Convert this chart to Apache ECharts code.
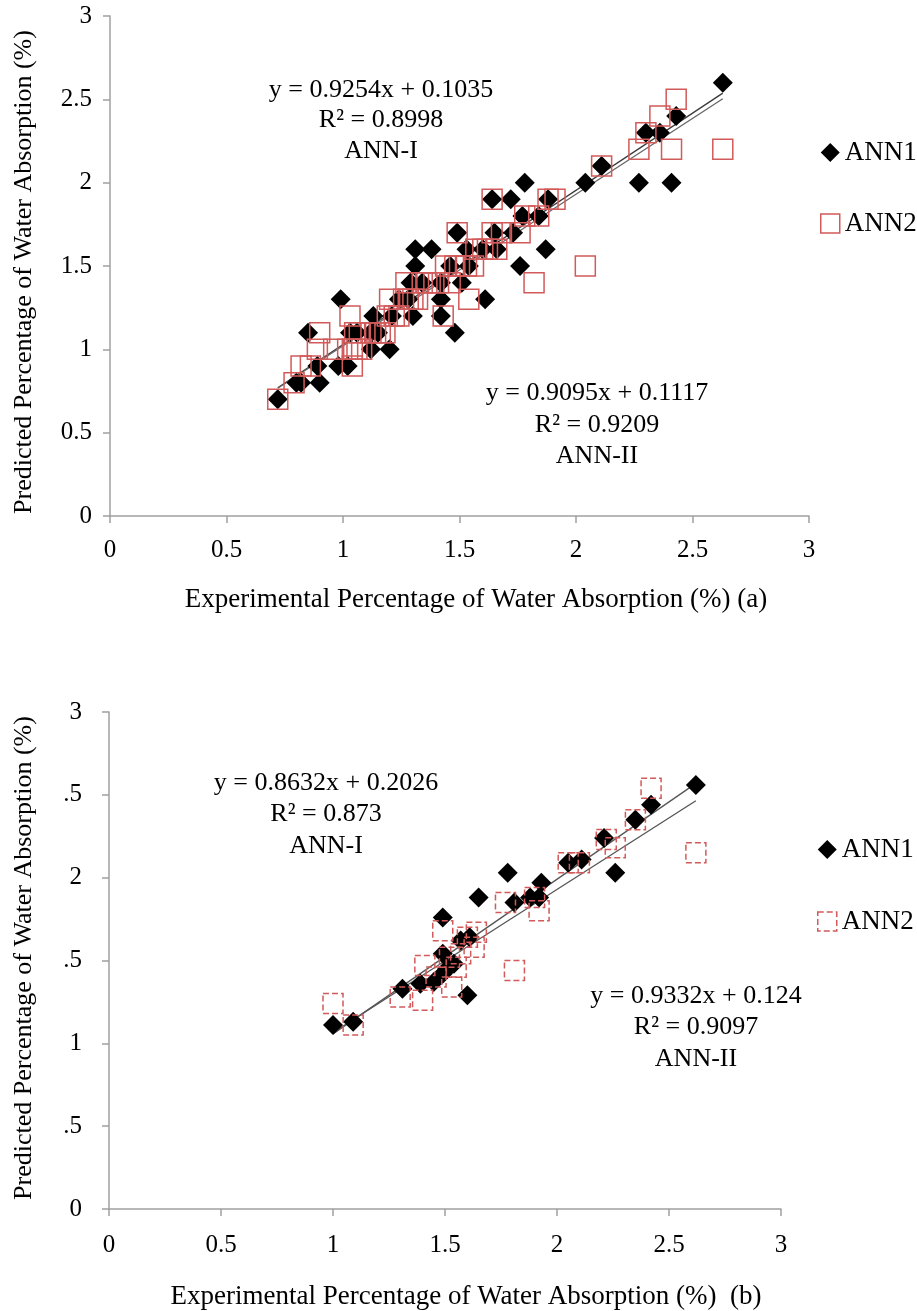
<!DOCTYPE html>
<html><head><meta charset="utf-8">
<script src="https://cdn.jsdelivr.net/npm/echarts@6/dist/echarts.min.js"></script>
<style>html,body{margin:0;padding:0;background:#fff}#c{width:917px;height:1311px}</style>
</head><body><div id="c"></div>
<script>
// ---------- data ----------
const xTickLabels = ['0','0.5','1','1.5','2','2.5','3'];
const yTickLabelsA = ['0','0.5','1','1.5','2','2.5','3'];
const yTickLabelsB = ['0','.5','1','.5','2','.5','3'];

const ann1A = [[0.72,0.7],[0.8,0.8],[0.82,0.8],[0.9,0.8],[0.85,1.1],[0.89,0.9],[0.98,0.9],[1.02,0.9],[0.99,1.3],[1.03,1.1],[1.06,1.1],[1.12,1.0],[1.2,1.0],[1.12,1.1],[1.15,1.1],[1.13,1.2],[1.21,1.2],[1.3,1.2],[1.42,1.2],[1.24,1.3],[1.28,1.3],[1.42,1.3],[1.29,1.4],[1.34,1.4],[1.42,1.4],[1.51,1.4],[1.31,1.5],[1.46,1.5],[1.54,1.5],[1.76,1.5],[1.31,1.6],[1.38,1.6],[1.53,1.6],[1.6,1.6],[1.66,1.6],[1.87,1.6],[1.48,1.1],[1.61,1.3],[1.49,1.7],[1.65,1.7],[1.73,1.7],[1.77,1.8],[1.84,1.8],[1.64,1.9],[1.72,1.9],[1.88,1.9],[1.78,2.0],[2.04,2.0],[2.27,2.0],[2.41,2.0],[2.11,2.1],[2.3,2.3],[2.36,2.3],[2.43,2.4],[2.63,2.6]];
const ann2A = [[0.72,0.7],[0.79,0.8],[0.82,0.9],[0.86,0.9],[0.89,1.0],[0.9,1.1],[0.96,1.0],[1.02,1.0],[1.04,0.9],[1.04,1.0],[1.06,1.0],[1.03,1.2],[1.05,1.1],[1.07,1.1],[1.08,1.0],[1.12,1.1],[1.14,1.1],[1.16,1.1],[1.18,1.1],[1.19,1.2],[1.2,1.3],[1.22,1.2],[1.24,1.2],[1.26,1.3],[1.27,1.4],[1.28,1.3],[1.3,1.3],[1.32,1.3],[1.34,1.4],[1.36,1.4],[1.39,1.4],[1.41,1.4],[1.43,1.2],[1.44,1.5],[1.46,1.4],[1.48,1.5],[1.49,1.7],[1.5,1.5],[1.53,1.5],[1.54,1.3],[1.56,1.5],[1.57,1.6],[1.6,1.6],[1.62,1.6],[1.64,1.7],[1.64,1.9],[1.66,1.6],[1.68,1.7],[1.76,1.7],[1.78,1.8],[1.82,1.4],[1.84,1.8],[1.88,1.9],[1.91,1.9],[2.04,1.5],[2.11,2.1],[2.27,2.2],[2.3,2.3],[2.36,2.4],[2.41,2.2],[2.43,2.5],[2.63,2.2]];

const ann1B = [[1.0,1.11],[1.09,1.13],[1.31,1.33],[1.39,1.36],[1.45,1.37],[1.49,1.42],[1.51,1.45],[1.54,1.48],[1.49,1.54],[1.49,1.76],[1.6,1.29],[1.57,1.62],[1.61,1.64],[1.65,1.88],[1.78,2.03],[1.81,1.85],[1.88,1.88],[1.93,1.97],[1.92,1.88],[2.05,2.09],[2.11,2.11],[2.21,2.24],[2.26,2.03],[2.35,2.35],[2.42,2.44],[2.62,2.56]];
const ann2B = [[1.0,1.24],[1.09,1.11],[1.3,1.28],[1.4,1.26],[1.41,1.47],[1.46,1.4],[1.49,1.68],[1.52,1.52],[1.53,1.34],[1.55,1.46],[1.57,1.54],[1.6,1.64],[1.63,1.58],[1.64,1.67],[1.77,1.85],[1.81,1.44],[1.9,1.88],[1.92,1.8],[2.05,2.09],[2.1,2.09],[2.22,2.23],[2.26,2.18],[2.35,2.35],[2.42,2.54],[2.62,2.15]];

const fitSlopeA = [0.9254, 0.9095];
const fitInterceptA = [0.1035, 0.1117];
const fitSlopeB = [0.8632, 0.9332];
const fitInterceptB = [0.2026, 0.124];
const eqTextA1 = ['y = 0.9254x + 0.1035','R\u00b2 = 0.8998','ANN-I'];
const eqTextA2 = ['y = 0.9095x + 0.1117','R\u00b2 = 0.9209','ANN-II'];
const eqTextB1 = ['y = 0.8632x + 0.2026','R\u00b2 = 0.873','ANN-I'];
const eqTextB2 = ['y = 0.9332x + 0.124','R\u00b2 = 0.9097','ANN-II'];
const xTitleA = 'Experimental Percentage of Water Absorption (%) (a)';
const xTitleB = 'Experimental Percentage of Water Absorption (%)  (b)';
const yTitle = 'Predicted Percentage of Water Absorption (%)';

// ---------- helpers ----------
const FONT = '"Liberation Serif","Times New Roman",serif';
const RED = '#d25a5a';
function fitLine(slope, icpt, pts) {
  const xs = pts.map(p => p[0]);
  const x0 = Math.min(...xs), x1 = Math.max(...xs);
  return [[x0, slope*x0+icpt],[x1, slope*x1+icpt]];
}
function axisCommon(labels, margin, extra) {
  return Object.assign({
    type: 'value', min: 0, max: 3, interval: 0.5,
    axisLine: {show: true, onZero: false, lineStyle: {color: '#a0a0a0', width: 1.5}},
    axisTick: {show: true, length: 7, lineStyle: {color: '#a0a0a0', width: 1.5}},
    splitLine: {show: false},
    axisLabel: {fontFamily: FONT, fontSize: 25, color: '#000', margin: margin,
      formatter: v => labels[Math.round(v / 0.5)]}
  }, extra);
}
function eqGraphics(lines, cx, ys) {
  return lines.map((t, i) => ({
    type: 'text', x: cx, y: ys[i],
    style: {text: t, fontFamily: FONT, fontSize: 26, fill: '#000', align: 'center', verticalAlign: 'middle'}
  }));
}
const allA = ann1A.concat(ann2A), allB = ann1B.concat(ann2B);
const lineStyleFit = c => ({type: 'line', showSymbol: false, silent: true, z: 1,
  lineStyle: {color: c, width: 1.3}});

const option = {
  backgroundColor: '#fff',
  animation: false,
  grid: [
    {left: 110, top: 16, width: 699, height: 500},
    {left: 109, top: 712, width: 672, height: 497}
  ],
  xAxis: [
    axisCommon(xTickLabels, 22, {gridIndex: 0}),
    axisCommon(xTickLabels, 24, {gridIndex: 1})
  ],
  yAxis: [
    axisCommon(yTickLabelsA, 18, {gridIndex: 0}),
    axisCommon(yTickLabelsB, 27, {gridIndex: 1})
  ],
  legend: [
    {orient: 'vertical', left: 820, top: 139, padding: 0, itemWidth: 19, itemHeight: 19, itemGap: 44,
     selectedMode: false,
     textStyle: {fontFamily: FONT, fontSize: 27, color: '#000', lineHeight: 26},
     data: [{name: 'ANN1', icon: 'diamond', itemStyle: {color: '#000'}},
            {name: 'ANN2', icon: 'rect', itemStyle: {color: 'rgba(0,0,0,0)', borderColor: RED, borderWidth: 1.5}}]},
    {orient: 'vertical', left: 817, top: 836, padding: 0, itemWidth: 19, itemHeight: 19, itemGap: 45,
     selectedMode: false,
     textStyle: {fontFamily: FONT, fontSize: 27, color: '#000', lineHeight: 26},
     data: [{name: 'ANN1', icon: 'diamond', itemStyle: {color: '#000'}},
            {name: 'ANN2', icon: 'rect', itemStyle: {color: 'rgba(0,0,0,0)', borderColor: RED, borderWidth: 1.5, borderType: 'dashed'}}]}
  ],
  series: [
    {name: 'ANN1', type: 'scatter', xAxisIndex: 0, yAxisIndex: 0, data: ann1A, symbol: 'diamond', symbolSize: 20,
     itemStyle: {color: '#000', opacity: 1}, z: 3},
    {name: 'ANN2', type: 'scatter', xAxisIndex: 0, yAxisIndex: 0, data: ann2A, symbol: 'rect', symbolSize: 20,
     itemStyle: {color: 'rgba(0,0,0,0)', borderColor: RED, borderWidth: 1.5, opacity: 1}, z: 4},
    Object.assign(lineStyleFit('#3a3a3a'), {name: 'fitA1', xAxisIndex: 0, yAxisIndex: 0, data: fitLine(fitSlopeA[0], fitInterceptA[0], allA)}),
    Object.assign(lineStyleFit('#666'), {name: 'fitA2', xAxisIndex: 0, yAxisIndex: 0, data: fitLine(fitSlopeA[1], fitInterceptA[1], allA)}),

    {name: 'ANN1', type: 'scatter', xAxisIndex: 1, yAxisIndex: 1, data: ann1B, symbol: 'diamond', symbolSize: 20,
     itemStyle: {color: '#000', opacity: 1}, z: 3},
    {name: 'ANN2', type: 'scatter', xAxisIndex: 1, yAxisIndex: 1, data: ann2B, symbol: 'rect', symbolSize: 20,
     itemStyle: {color: 'rgba(0,0,0,0)', borderColor: RED, borderWidth: 1.5, borderType: 'dashed', opacity: 1}, z: 4},
    Object.assign(lineStyleFit('#555'), {name: 'fitB1', xAxisIndex: 1, yAxisIndex: 1, data: fitLine(fitSlopeB[0], fitInterceptB[0], allB)}),
    Object.assign(lineStyleFit('#555'), {name: 'fitB2', xAxisIndex: 1, yAxisIndex: 1, data: fitLine(fitSlopeB[1], fitInterceptB[1], allB)})
  ],
  graphic: [].concat(
    eqGraphics(eqTextA1, 381, [90, 120, 151]),
    eqGraphics(eqTextA2, 597, [393, 425, 456]),
    eqGraphics(eqTextB1, 326, [783, 814, 846]),
    eqGraphics(eqTextB2, 696, [996, 1027, 1059]),
    [
      {type: 'text', x: 476, y: 600, style: {text: xTitleA, fontFamily: FONT, fontSize: 27, fill: '#000', align: 'center', verticalAlign: 'middle'}},
      {type: 'text', x: 466, y: 1297, style: {text: xTitleB, fontFamily: FONT, fontSize: 27, fill: '#000', align: 'center', verticalAlign: 'middle'}},
      {type: 'text', x: 24, y: 272, rotation: Math.PI / 2, style: {text: yTitle, fontFamily: FONT, fontSize: 26, fill: '#000', align: 'center', verticalAlign: 'middle'}},
      {type: 'text', x: 24, y: 958, rotation: Math.PI / 2, style: {text: yTitle, fontFamily: FONT, fontSize: 26, fill: '#000', align: 'center', verticalAlign: 'middle'}}
    ]
  )
};
echarts.init(document.getElementById('c'), null, {renderer: 'canvas'}).setOption(option);
</script>
</body></html>
